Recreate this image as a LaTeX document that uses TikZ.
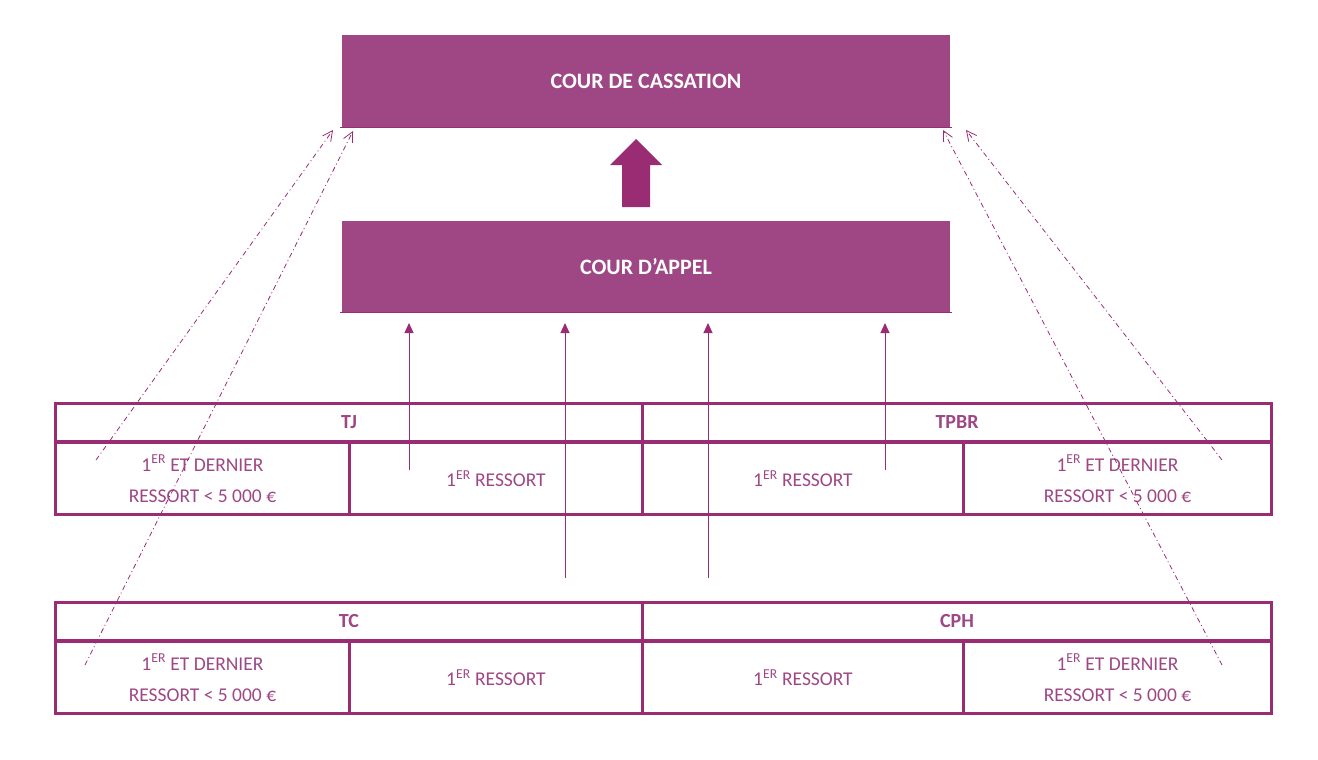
\documentclass[tikz,border=0pt]{standalone}
\usepackage{fontspec}
\setmainfont{Carlito}
\usetikzlibrary{arrows.meta}
\definecolor{prune}{HTML}{9E4784}
\definecolor{trait}{HTML}{9A2C74}
\tikzset{
court/.style={rectangle, fill=prune, draw=none, minimum width=608pt, minimum height=92pt,
  text=white, font=\fontsize{22}{26}\selectfont\bfseries},
cell/.style={rectangle, draw=trait, line width=3pt, text=prune, align=center,
  font=\fontsize{19.5}{31}\selectfont, inner sep=0pt},
head/.style={cell, font=\fontsize{20}{24}\selectfont\bfseries},
up/.style={draw=trait, line width=1pt, -{Triangle[length=10pt,width=9pt]}},
pourvoi/.style={draw=trait, line width=0.8pt, dash pattern=on 5pt off 3pt on 1pt off 3pt,
  -{Straight Barb[length=10pt,width=10pt]}}
}
\newcommand{\premier}{1\textsuperscript{ER}}
\begin{document}
\begin{tikzpicture}[x=1pt,y=-1pt]
\useasboundingbox (0,0) rectangle (1318,760);
% cours
\node[court] (cass) at (646,81) {COUR DE CASSATION};
\node[court] (appel) at (646,266.5) {COUR D’APPEL};
\draw[trait, line width=1pt] (340,127.5) -- (952,127.5);
\draw[trait, line width=1pt] (340,312.5) -- (952,312.5);
\fill[trait] (622,207) -- (622,165) -- (610,165) -- (636,139) -- (662,165) -- (650,165) -- (650,207) -- cycle;
% tribunaux
\foreach \y/\g/\d/\n in {402/TJ/TPBR/a, 601/TC/CPH/b} {
  \node[head, minimum width=587pt, minimum height=38pt, anchor=north west] (\n g) at (54,\y) {\g};
  \node[head, minimum width=629pt, minimum height=38pt, anchor=north west] (\n d) at (641,\y) {\d};
  \node[cell, minimum width=294pt, minimum height=72pt, anchor=north west] (\n 1) at (54,\y+39) {\premier{} ET DERNIER\\RESSORT < 5 000 €};
  \node[cell, minimum width=293pt, minimum height=72pt, anchor=north west] (\n 2) at (348,\y+39) {\premier{} RESSORT};
  \node[cell, minimum width=321pt, minimum height=72pt, anchor=north west] (\n 3) at (641,\y+39) {\premier{} RESSORT};
  \node[cell, minimum width=308pt, minimum height=72pt, anchor=north west] (\n 4) at (962,\y+39) {\premier{} ET DERNIER\\RESSORT < 5 000 €};
}
% appels
\coordinate (p1) at (409,470);
\coordinate (p2) at (565,578);
\coordinate (p3) at (708,578);
\coordinate (p4) at (885,470);
\foreach \i/\x in {1/409, 2/565, 3/708, 4/885}
  \draw[up] (p\i) -- (\x,323);
% pourvois
\coordinate (q1) at (96,460);
\coordinate (q2) at (85,665);
\coordinate (q3) at (1222,460);
\coordinate (q4) at (1222,665);
\draw[pourvoi] (q1) -- (333,130);
\draw[pourvoi] (q2) -- (353,131);
\draw[pourvoi] (q3) -- (966,130);
\draw[pourvoi] (q4) -- (943,130);
\end{tikzpicture}
\end{document}
